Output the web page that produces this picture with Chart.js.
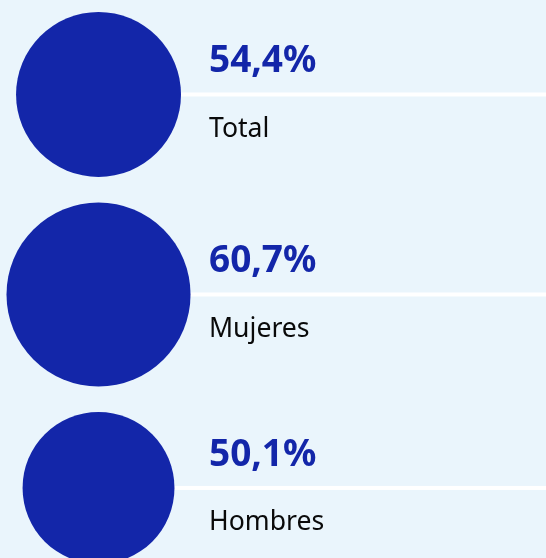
<!DOCTYPE html>
<html lang="es">
<head>
  <meta charset="UTF-8">
  <title>Porcentajes</title>
  <script src="https://cdn.jsdelivr.net/npm/chart.js"></script>
  <style>
    html, body {
      margin: 0;
      padding: 0;
      background: #eaf5fc;
    }
    .wrap {
      width: 546px;
      height: 558px;
      position: relative;
    }
  </style>
</head>
<body>

<div class="wrap">
  <canvas id="bubbles" width="546" height="558"></canvas>
</div>

<script>
  // datos
  const categories = ['Total', 'Mujeres', 'Hombres'];
  const values = [54.4, 60.7, 50.1];
  const valueLabels = ['54,4%', '60,7%', '50,1%'];

  const BLUE = '#1326a9';
  const W = 546, H = 558;
  const pxPerUnit = 1.516;   // radio del círculo por punto porcentual
  const topGap = 12;
  const rowGap = 25.5;
  const leftGap = 6.5;

  // radios y centros calculados a partir de los valores
  const radii = values.map(v => v * pxPerUnit);
  const cx = leftGap + Math.max(...radii);
  const centers = [];
  let cursor = topGap;
  radii.forEach(r => {
    centers.push(cursor + r);
    cursor += 2 * r + rowGap;
  });

  const points = values.map((v, i) => ({ x: cx, y: centers[i], r: radii[i] }));

  // líneas blancas y textos al lado de cada círculo
  const labelPlugin = {
    id: 'rowLabels',
    beforeDatasetsDraw(chart) {
      const { ctx } = chart;
      const xs = chart.scales.x, ys = chart.scales.y;
      ctx.save();
      ctx.fillStyle = '#ffffff';
      points.forEach(p => {
        const y = ys.getPixelForValue(p.y);
        ctx.fillRect(xs.getPixelForValue(p.x), y - 2, W, 4);
      });
      ctx.restore();
    },
    afterDatasetsDraw(chart) {
      const { ctx } = chart;
      const ys = chart.scales.y;
      ctx.save();
      ctx.textAlign = 'left';
      ctx.textBaseline = 'alphabetic';
      points.forEach((p, i) => {
        const y = ys.getPixelForValue(p.y);
        ctx.fillStyle = BLUE;
        ctx.font = 'bold 37px "Noto Sans", "Open Sans", sans-serif';
        ctx.fillText(valueLabels[i], 209, y - 22);
        ctx.fillStyle = '#0a0a0a';
        ctx.font = '26.6px "Noto Sans", "Open Sans", sans-serif';
        ctx.fillText(categories[i], 209, y + 42.5);
      });
      ctx.restore();
    }
  };

  document.addEventListener('DOMContentLoaded', () => {
    const ctx = document.getElementById('bubbles').getContext('2d');
    new Chart(ctx, {
      type: 'bubble',
      data: {
        labels: categories,
        datasets: [{
          data: points,
          backgroundColor: BLUE,
          borderWidth: 0,
          hoverBorderWidth: 0
        }]
      },
      options: {
        responsive: false,
        animation: false,
        layout: { padding: 0, autoPadding: false },
        scales: {
          x: { type: 'linear', min: 0, max: W, display: false },
          y: { type: 'linear', min: 0, max: H, reverse: true, display: false }
        },
        plugins: {
          legend: { display: false },
          tooltip: { enabled: false }
        },
        clip: false
      },
      plugins: [labelPlugin]
    });
  });
</script>

</body>
</html>
